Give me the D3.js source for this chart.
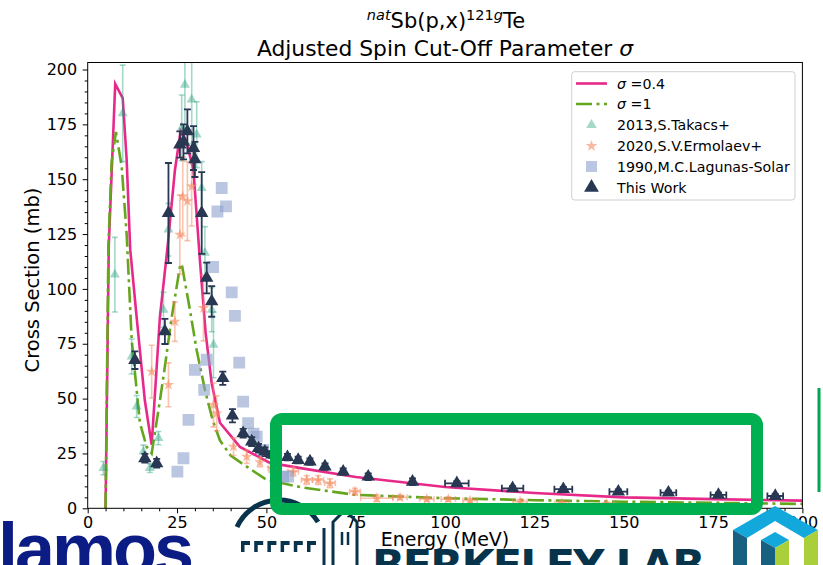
<!DOCTYPE html>
<html><head><meta charset="utf-8">
<script src="https://cdn.jsdelivr.net/npm/d3@7"></script>
<style>body{margin:0;background:#fff;overflow:hidden}svg{display:block;font-family:"DejaVu Sans",sans-serif}</style>
</head><body>
<svg id="c" width="823" height="565"></svg>
<script>
// ---- data ----
const curve04E = [5.0,5.9,7.7,9.8,10.9,11.9,13.7,16.0,17.9,20.2,22.4,24.4,26.0,27.5,29.6,31.4,33.0,34.7,37.0,42.6,51,60,75,100,125,150,175,200];
const curve04Y = [0,120,193.5,187,159,118,87,49,29,87,120,154,172,168,154,113,80,57,39,28,20.7,18.2,14.3,9.7,7,5,4.2,3.5];
const curve1E = [5.0,5.8,6.7,7.9,9.5,10.9,12.3,14.6,16.5,17.9,20.2,21.6,23.5,25.8,26.3,28.6,30.5,32.8,35,37,40,44.5,50,60,75,100,125,150,175,200];
const curve1Y = [0,120,158,171.5,156,125,77,39,28,25,49,64.6,87,110,111.5,90.5,72,54,40,31,24,19,13,9.5,6.1,4.6,3.7,3.0,2.5,2.0];

const takE = [4.4,7.6,9.8,12.3,13.7,15.6,17.4,19.8,21.2,22.6,26.3,27.2,29.1,30.5,31.9,32.8,34.7,35.2];
const takY = [18.3,106.5,180,69.2,46.4,25.8,18.3,32,90.5,127,173.4,193,186.3,170.3,146,116.4,90.5,74.5];
const takYerr = [3,17,22,8,5,3,2,3,8,12,15,20,20,15,12,12,10,15];

const ermE = [17.9,22.6,24.4,25.8,26.6,27.9,29.1,32.4,35.2,36.1,40.8,44.5,48.2,51.5,57.5,61.3,64.5,67.8,74.8,80.9,87.4,94.9,100.9,107,121,132.7,145.2];
const ermY = [62.3,56.3,85.1,124.7,142.2,140,146.7,91.3,47.1,43.3,28.1,23.5,21,18.3,16.7,12.9,12.9,11.4,7.6,4.6,5,4.2,4.2,3.5,3,2.3,2];
const ermYerr = [12,10,9,18,18,18,18,15,10,8,4,3,2,2,2,2,2,2,1.5,1.5,1,1,1,1,1,1,1];
const ermXerr = [0,0,0,0,0,0,0,0,0,0,0,0,0,1,1.5,1.5,1.5,1.5,1.5,4.5,2,2,2,2,2,2,2];

const lagE = [25.1,26.8,28.2,30.0,32.6,33.3,35.1,36.3,37.5,38.7,40.3,41.2,42.4,43.5,44.9,46.4,47.3,49.1,54.7,56.1];
const lagY = [16.7,22.8,40.3,63.1,54,67.7,110,135.3,146,137.6,98.4,87.7,66.4,48.6,38.8,34,32.7,26.6,14.4,14.4];

const twE = [13.2,16.0,19.3,21.6,22.6,25.8,26.8,27.9,29.6,30.0,31.9,33.3,34.7,37.8,40.5,43.5,45.9,47.8,49.6,51.5,55.9,58.9,62.2,66.4,71.5,78.5,90.9,103.3,118.9,133.1,148.5,162.5,176.5,192.4];
const twY = [67.5,22.8,20.5,80.6,134.6,165.8,167,171.8,164.2,159,134.6,105,94.3,59.3,42.2,34.2,30.4,27.4,25.8,24.5,23.3,22,21.3,19,16.7,14.4,12.1,11.4,9.1,8.7,7.6,7.1,6.1,5.6];
const twYerr = [4,2,2,5.7,22.8,6,8,10,10,8,18.6,7,7,3,3,2,2,2,2,1.5,1.5,1.5,1.5,1.5,1.5,1.5,1.5,1,1,1,1,1,1,1];
const twXerr = [0,0,0,0,0,0,0,0,0,0,0,0,0,0,0,0,0,0,0,0,0,0,0,0,0,0,0,3.3,3,2.5,2.5,2.2,2.2,2.2];

const xTicks = [0,25,50,75,100,125,150,175,200];
const yTicks = [0,25,50,75,100,125,150,175,200];
const legendLabels = ["\u03C3 =0.4","\u03C3 =1","2013,S.Takacs+","2020,S.V.Ermolaev+","1990,M.C.Lagunas-Solar","This Work"];

// ---- styles ----
const C04 = "#e7298a", C1 = "#66a61e", CTAK = "#1b9e77", CERM = "#f58a5e", CLAG = "#8da0cb", CTW = "#283852";

const svg = d3.select("#c");
svg.append("rect").attr("width",823).attr("height",565).attr("fill","#fff");
const L = 87.7, R = 802.4, T = 62.5, B = 508.3;
const x = d3.scaleLinear().domain([0,200]).range([L,R]);
const y = d3.scaleLinear().domain([0,203.2]).range([B,T]);

svg.append("clipPath").attr("id","clip").append("rect").attr("x",L).attr("y",T).attr("width",R-L).attr("height",B-T);
const plot = svg.append("g").attr("clip-path","url(#clip)");

const line = d3.line().x(d=>x(d[0])).y(d=>y(d[1]));
plot.append("path").datum(curve04E.map((e,i)=>[e,curve04Y[i]])).attr("d",line)
  .attr("fill","none").attr("stroke",C04).attr("stroke-width",2.6);
plot.append("path").datum(curve1E.map((e,i)=>[e,curve1Y[i]])).attr("d",line)
  .attr("fill","none").attr("stroke",C1).attr("stroke-width",2.6).attr("stroke-dasharray","16,4.5,3,4.5");

function errbars(g, E, Y, Ye, Xe, color, op, cap, sw){
  const gg = g.append("g").attr("stroke",color).attr("stroke-opacity",op).attr("stroke-width",sw).attr("fill","none");
  E.forEach((e,i)=>{
    const ye = Ye ? Ye[i] : 0, xe = Xe ? Xe[i] : 0;
    if (ye>0){
      gg.append("line").attr("x1",x(e)).attr("x2",x(e)).attr("y1",y(Y[i]-ye)).attr("y2",y(Y[i]+ye));
      [Y[i]-ye,Y[i]+ye].forEach(v=>gg.append("line").attr("x1",x(e)-cap).attr("x2",x(e)+cap).attr("y1",y(v)).attr("y2",y(v)));
    }
    if (xe>0){
      gg.append("line").attr("y1",y(Y[i])).attr("y2",y(Y[i])).attr("x1",x(e-xe)).attr("x2",x(e+xe));
      [e-xe,e+xe].forEach(v=>gg.append("line").attr("y1",y(Y[i])-cap).attr("y2",y(Y[i])+cap).attr("x1",x(v)).attr("x2",x(v)));
    }
  });
}
function markers(g, E, Y, type, size, color, op){
  const sym = d3.symbol().type(type).size(size);
  g.append("g").selectAll("path").data(E).join("path")
    .attr("d",sym).attr("transform",(d,i)=>`translate(${x(d)},${y(Y[i])})`)
    .attr("fill",color).attr("fill-opacity",op);
}

errbars(plot, takE, takY, takYerr, null, CTAK, 0.4, 3, 1.6);
markers(plot, takE, takY, d3.symbolTriangle, 44, CTAK, 0.4);
errbars(plot, ermE, ermY, ermYerr, ermXerr, CERM, 0.5, 3, 1.6);
markers(plot, ermE, ermY, d3.symbolStar, 42, CERM, 0.6);
markers(plot, lagE, lagY, d3.symbolSquare, 140, CLAG, 0.6);
errbars(plot, twE, twY, twYerr, twXerr, CTW, 1, 3.5, 1.8);
markers(plot, twE, twY, d3.symbolTriangle, 78, CTW, 1);

// frame
svg.append("rect").attr("x",L).attr("y",T).attr("width",R-L).attr("height",B-T)
  .attr("fill","none").attr("stroke","#000").attr("stroke-width",1);

// axes
svg.append("g").attr("transform",`translate(0,${B})`)
  .call(d3.axisBottom(x).tickValues(xTicks).tickSize(5).tickPadding(3.5).tickFormat(d3.format("d")));
svg.append("g").attr("transform",`translate(0,${B})`)
  .call(d3.axisBottom(x).tickValues(d3.range(0,201,5).filter(v=>v%25)).tickSize(3).tickFormat(""));
svg.append("g").attr("transform",`translate(${L},0)`)
  .call(d3.axisLeft(y).tickValues(yTicks).tickSize(5).tickPadding(5.5).tickFormat(d3.format("d")));
svg.append("g").attr("transform",`translate(${L},0)`)
  .call(d3.axisLeft(y).tickValues(d3.range(0,201,5).filter(v=>v%25)).tickSize(3).tickFormat(""));
svg.selectAll(".domain").remove();
svg.selectAll(".tick text").attr("font-family","DejaVu Sans").attr("font-size",16).attr("fill","#000");
svg.selectAll(".tick line").attr("stroke","#000");

// labels
svg.append("text").attr("x",445).attr("y",546).attr("text-anchor","middle").attr("font-size",19).text("Energy (MeV)");
svg.append("text").attr("transform","translate(39,280) rotate(-90)").attr("text-anchor","middle").attr("font-size",19.5).text("Cross Section (mb)");

const t1 = svg.append("text").attr("x",446).attr("y",28).attr("text-anchor","middle").attr("font-size",21);
t1.append("tspan").attr("font-style","italic").attr("font-size",14.5).attr("dy",-8).text("nat");
t1.append("tspan").attr("dy",8).text("Sb(p,x)");
t1.append("tspan").attr("font-size",14.5).attr("dy",-8).text("121");
t1.append("tspan").attr("font-size",14.5).attr("font-style","italic").text("g");
t1.append("tspan").attr("dy",8).text("Te");
const t2 = svg.append("text").attr("x",445).attr("y",56).attr("text-anchor","middle").attr("font-size",21.8);
t2.append("tspan").text("Adjusted Spin Cut-Off Parameter ");
t2.append("tspan").attr("font-style","italic").text("\u03C3");

// legend
const lg = svg.append("g");
lg.append("rect").attr("x",571.7).attr("y",71.7).attr("width",223.3).attr("height",128.3).attr("rx",3)
  .attr("fill","#fff").attr("fill-opacity",0.8).attr("stroke","#d0d0d0").attr("stroke-width",1);
const ly = [83.5,104,125,146,166.5,187.5];
lg.append("line").attr("x1",576).attr("x2",607).attr("y1",ly[0]).attr("y2",ly[0]).attr("stroke",C04).attr("stroke-width",2.6);
lg.append("line").attr("x1",576).attr("x2",607).attr("y1",ly[1]).attr("y2",ly[1]).attr("stroke",C1).attr("stroke-width",2.6).attr("stroke-dasharray","16,4.5,3,4.5");
const lsym = [[d3.symbolTriangle,48,CTAK,0.4],[d3.symbolStar,42,CERM,0.6],[d3.symbolSquare,121,CLAG,0.6],[d3.symbolTriangle,95,CTW,1]];
lsym.forEach((s,i)=>lg.append("path").attr("d",d3.symbol().type(s[0]).size(s[1])).attr("transform",`translate(591.5,${ly[i+2]})`).attr("fill",s[2]).attr("fill-opacity",s[3]));
legendLabels.forEach((t,i)=>{
  const tx = lg.append("text").attr("x",617).attr("y",ly[i]+5).attr("font-size",14.2);
  if (i<2){ tx.append("tspan").attr("font-style","italic").text("\u03C3"); tx.append("tspan").text(t.slice(1)); }
  else tx.text(t);
});

// ---- slide overlays (logos, highlight box) ----
const ov = svg.append("g");
// Los Alamos wordmark (partial)
ov.append("text").attr("x",191).attr("y",574).attr("text-anchor","end").attr("font-family","Liberation Sans").attr("font-weight","bold")
  .attr("font-size",72).attr("fill","#0b1c84").attr("letter-spacing",-3).text("Alamos");
// Berkeley Lab mark
const bc = "#07344a";
ov.append("path").attr("d","M237,527 A46,46 0 0,1 318,522").attr("fill","none").attr("stroke",bc).attr("stroke-width",5);
for (let k=0;k<6;k++){
  const bx = 241 + k*13.2;
  ov.append("path").attr("d",`M${bx},552 V541 H${bx+9} V545 H${bx+3.5} V552 Z`).attr("fill",bc);
}
ov.append("path").attr("d","M324,528 V565").attr("stroke",bc).attr("stroke-width",3);
ov.append("path").attr("d","M333,565 V522 L345,510 L357,522 V565").attr("fill","none").attr("stroke",bc).attr("stroke-width",3);
ov.append("path").attr("d","M342,532 V545 M348,532 V545").attr("stroke",bc).attr("stroke-width",2.5);
ov.append("text").attr("x",372).attr("y",580).attr("font-family","DejaVu Sans").attr("font-weight","bold")
  .attr("font-size",43).attr("fill",bc).attr("textLength",333).text("BERKELEY LAB");
// hex logo
ov.append("polygon").attr("points","733,530 775,506 818,530 804,538 775,521 747,538").attr("fill","#12a8dc");
ov.append("polygon").attr("points","733,530 747,538 747,565 733,565").attr("fill","#17607f");
ov.append("polygon").attr("points","818,530 804,538 804,565 818,565").attr("fill","#a9cf3b");
ov.append("polygon").attr("points","761,540 775,532 789,540 775,548").attr("fill","#12a8dc");
ov.append("polygon").attr("points","761,540 775,548 775,565 761,565").attr("fill","#17607f");
ov.append("polygon").attr("points","775,548 789,540 789,565 775,565").attr("fill","#a9cf3b");
// highlight rectangle
ov.append("rect").attr("x",276).attr("y",419).attr("width",481).attr("height",90).attr("rx",6)
  .attr("fill","none").attr("stroke","#00b050").attr("stroke-width",12);
ov.append("rect").attr("x",817.5).attr("y",388).attr("width",3).attr("height",104).attr("fill","#00a650");
</script>
</body></html>
